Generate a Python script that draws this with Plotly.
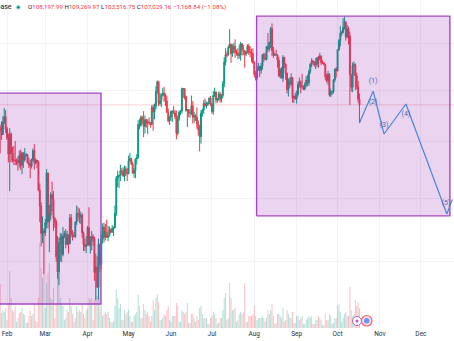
import pandas as pd
import plotly.graph_objects as go

# ---------------- data (prices in thousands USD) ----------------
dates = pd.date_range("2025-01-27", "2025-10-17", freq="D")

first_open_k = 102.6

close_k = [
    # Jan 27-31
    102.1, 101.3, 103.7, 104.7, 102.4,
    # Feb
    100.6, 97.7, 101.4, 97.9, 96.6, 96.6, 96.5, 96.5, 96.1, 97.4, 95.7, 97.9, 96.6, 97.5,
    97.6, 96.1, 95.8, 95.5, 96.6, 98.3, 96.1, 96.6, 96.3, 91.4, 88.7, 84.3, 84.7, 84.4,
    # Mar
    86.0, 94.3, 86.1, 87.2, 90.6, 89.9, 86.7, 86.1, 80.7, 78.5, 82.9, 83.7, 81.1, 83.9, 84.3,
    82.6, 84.1, 82.7, 86.8, 84.2, 84.0, 83.8, 86.1, 87.5, 87.4, 86.9, 87.2, 84.4, 82.6, 82.3, 82.5,
    # Apr
    85.2, 82.5, 83.1, 83.8, 83.5, 78.4, 79.2, 76.3, 82.6, 79.6, 83.4, 85.3, 83.7, 84.5, 83.7,
    84.0, 84.9, 84.5, 85.1, 85.2, 87.5, 93.4, 93.7, 93.9, 94.7, 94.6, 93.8, 95.0, 94.3, 94.2,
    # May
    96.5, 96.9, 95.9, 94.3, 94.7, 96.8, 97.0, 103.2, 103.0, 104.6, 104.1, 102.8, 104.1, 103.5, 103.7,
    103.5, 103.2, 106.5, 105.6, 106.8, 109.7, 111.7, 107.3, 107.8, 109.0, 109.4, 108.9, 107.8, 105.6, 103.9, 104.6,
    # Jun
    105.7, 105.8, 105.4, 104.7, 101.5, 104.3, 105.6, 105.8, 110.3, 110.3, 108.7, 105.9, 106.1, 105.4, 105.5,
    106.8, 104.6, 104.9, 104.6, 103.3, 102.2, 100.9, 105.4, 106.0, 107.3, 106.9, 107.1, 107.3, 108.4, 107.1,
    # Jul
    105.7, 108.9, 109.6, 108.0, 108.2, 109.2, 108.2, 108.9, 111.3, 115.9, 117.5, 117.4, 119.1, 119.8, 117.7,
    118.7, 119.3, 117.9, 117.9, 117.3, 117.4, 119.9, 118.6, 118.4, 117.6, 117.9, 119.4, 118.0, 117.9, 117.8, 115.8,
    # Aug
    113.3, 112.5, 114.2, 115.0, 114.1, 115.0, 117.5, 116.7, 116.5, 119.3, 118.7, 120.2, 123.3, 118.4, 117.4,
    117.5, 117.4, 116.3, 112.9, 114.3, 112.5, 116.9, 115.4, 113.5, 110.1, 111.8, 111.2, 112.6, 108.4, 108.8, 108.2,
    # Sep
    109.2, 111.2, 111.7, 110.7, 110.7, 110.2, 111.2, 112.1, 111.5, 113.9, 115.5, 116.1, 115.9, 115.3, 115.4,
    116.8, 116.5, 117.1, 115.7, 115.7, 115.3, 112.7, 112.0, 113.3, 109.0, 109.7, 109.7, 112.1, 114.4, 114.0,
    # Oct 1-17
    118.6, 120.6, 122.3, 122.4, 123.5, 124.8, 121.4, 123.3, 121.7, 113.2, 110.6, 115.2, 115.3, 113.0, 110.8,
    108.19799, 107.02916,
]

high_k = [
    103.2, 103.8, 104.8, 106.4, 106.0,
    102.8, 101.5, 102.5, 101.7, 99.0, 99.2, 100.1, 96.9, 97.3, 98.3, 98.5, 98.1, 98.0, 98.8,
    97.9, 97.7, 97.0, 96.7, 96.9, 98.7, 99.5, 96.9, 96.6, 96.5, 92.5, 89.3, 87.0, 85.1,
    86.6, 95.0, 94.4, 88.9, 91.0, 92.8, 91.2, 86.9, 86.5, 83.9, 83.6, 84.4, 84.3, 85.3, 84.7,
    85.0, 84.7, 84.1, 87.4, 87.4, 84.8, 84.5, 86.2, 88.8, 88.5, 88.3, 87.8, 87.5, 84.6, 83.5, 83.9,
    85.5, 88.5, 83.9, 84.7, 84.2, 83.8, 81.2, 80.8, 83.5, 82.7, 84.2, 85.9, 86.0, 85.8, 86.5,
    85.5, 85.4, 85.1, 85.6, 85.4, 88.8, 93.8, 94.7, 94.0, 95.8, 95.2, 95.3, 95.6, 95.5, 95.2,
    97.4, 97.9, 96.9, 96.3, 95.2, 96.9, 97.7, 104.0, 104.3, 104.9, 104.9, 105.8, 104.9, 104.3, 104.2,
    104.6, 103.7, 107.0, 107.1, 107.3, 110.8, 112.0, 111.9, 109.5, 109.3, 110.4, 110.7, 109.3, 108.9, 106.3, 104.9,
    105.9, 105.9, 106.8, 106.0, 105.9, 105.0, 105.9, 106.0, 110.5, 110.4, 110.4, 108.9, 106.2, 106.2, 106.1,
    108.9, 107.8, 105.6, 105.2, 106.5, 104.0, 103.1, 106.0, 106.3, 108.0, 108.3, 107.7, 107.6, 108.5, 108.8,
    107.5, 109.8, 110.5, 109.7, 108.4, 109.7, 109.7, 109.2, 111.9, 116.9, 118.9, 118.2, 119.5, 123.2, 119.9,
    119.8, 120.1, 120.9, 118.6, 118.9, 119.7, 120.3, 120.0, 119.6, 118.4, 118.3, 119.8, 119.9, 119.3, 118.8, 118.9,
    116.1, 114.0, 114.7, 115.7, 115.1, 115.7, 117.6, 117.9, 117.9, 119.3, 122.3, 120.3, 123.7, 124.5, 119.2,
    117.9, 118.6, 117.6, 117.0, 114.6, 114.8, 117.4, 117.0, 115.6, 113.6, 112.4, 112.6, 113.5, 112.6, 108.9, 109.5,
    109.9, 111.8, 112.6, 112.0, 113.4, 111.0, 111.6, 112.9, 113.2, 114.3, 115.6, 116.7, 116.4, 116.1, 116.8,
    117.0, 117.3, 117.9, 117.4, 116.3, 115.9, 115.5, 113.4, 114.0, 113.5, 110.3, 109.8, 112.3, 114.5, 114.8,
    118.7, 121.0, 123.9, 122.8, 125.7, 126.2, 125.1, 124.2, 123.8, 122.6, 113.4, 115.8, 116.0, 115.6, 113.6,
    111.9, 109.26997,
]

low_k = [
    97.8, 100.3, 101.2, 103.3, 101.6,
    100.3, 96.2, 91.2, 96.2, 96.2, 95.7, 95.7, 95.7, 94.7, 95.3, 94.9, 94.1, 95.2, 96.3,
    97.2, 96.0, 95.2, 93.4, 95.1, 96.4, 94.9, 95.8, 95.2, 91.2, 86.1, 82.3, 82.8, 78.2,
    83.9, 85.1, 85.1, 81.4, 86.4, 87.8, 84.7, 85.2, 80.0, 77.5, 76.6, 80.0, 79.9, 80.8, 83.6,
    82.0, 82.5, 81.2, 82.6, 83.7, 83.2, 83.7, 83.6, 85.6, 86.3, 85.9, 85.8, 83.6, 81.6, 81.6, 81.3,
    82.4, 82.3, 81.2, 81.7, 82.4, 77.2, 74.5, 76.2, 74.6, 78.5, 78.9, 82.7, 82.9, 83.2, 83.6,
    83.1, 83.8, 84.3, 84.4, 83.9, 85.1, 87.1, 91.9, 91.7, 92.9, 93.9, 93.6, 92.9, 93.8, 92.9,
    94.1, 96.3, 95.7, 94.2, 93.5, 93.4, 95.8, 96.9, 102.3, 102.8, 103.3, 100.8, 101.5, 102.6, 101.4,
    103.1, 102.6, 103.1, 102.0, 104.2, 106.1, 109.3, 106.8, 106.9, 106.6, 108.7, 107.6, 106.8, 105.4, 103.6, 103.1,
    103.9, 103.7, 105.2, 104.2, 100.4, 101.1, 103.9, 105.0, 105.3, 108.4, 108.1, 105.7, 102.7, 104.6, 104.5,
    105.0, 103.4, 103.5, 103.9, 102.4, 101.1, 98.2, 99.6, 104.7, 105.3, 106.6, 106.3, 106.8, 107.2, 106.8,
    105.3, 105.1, 108.6, 107.3, 107.5, 107.8, 107.5, 107.5, 108.4, 110.6, 115.2, 116.9, 117.3, 118.9, 115.7,
    117.0, 117.8, 116.8, 117.3, 116.5, 116.6, 116.2, 117.3, 117.4, 114.7, 117.2, 117.8, 117.4, 116.9, 115.8, 115.5,
    112.7, 112.0, 112.2, 114.1, 112.7, 113.4, 114.3, 115.9, 116.3, 116.2, 118.1, 118.2, 118.9, 117.2, 116.8,
    117.2, 117.3, 114.7, 112.7, 112.4, 112.4, 111.7, 114.6, 112.1, 109.3, 108.7, 110.4, 110.9, 107.5, 107.4, 108.1,
    107.3, 108.7, 110.5, 109.3, 110.2, 110.0, 110.0, 110.6, 110.8, 110.9, 113.4, 114.8, 115.2, 114.9, 114.4,
    114.8, 114.7, 116.2, 115.2, 115.5, 115.2, 112.0, 111.5, 111.1, 108.7, 108.6, 109.1, 109.3, 111.6, 112.6,
    113.9, 118.3, 119.3, 121.6, 122.2, 123.1, 120.6, 121.1, 119.7, 107.0, 109.7, 109.6, 113.0, 110.0, 110.2,
    107.5, 103.51675,
]

# daily volume (thousand BTC)
volume_k = [
    44, 15, 18, 16, 20,
    8, 25, 57, 30, 18, 16, 22, 6, 10, 15, 16, 20, 14, 13, 5, 6, 12, 18, 12, 14, 24, 7, 6, 30, 85, 60, 50, 100,
    20, 45, 55, 65, 30, 28, 40, 10, 25, 50, 55, 30, 25, 22, 8, 10, 18, 16, 30, 22, 14, 6, 10, 22, 16, 18, 16, 24, 14, 10, 18,
    20, 30, 28, 30, 8, 28, 55, 32, 50, 30, 22, 12, 14, 16, 14, 16, 10, 6, 5, 7, 22, 38, 30, 20, 24, 8, 8, 18, 14, 16,
    18, 12, 6, 6, 12, 14, 16, 33, 22, 10, 10, 24, 18, 14, 16, 12, 6, 12, 28, 18, 30, 34, 26, 8, 8, 10, 14, 12, 18, 22, 8,
    6, 12, 12, 12, 25, 22, 6, 6, 18, 16, 14, 16, 25, 5, 5, 14, 14, 10, 6, 12, 8, 20, 22, 14, 10, 10, 10, 4, 4, 10,
    12, 16, 14, 10, 4, 5, 10, 10, 18, 30, 35, 8, 10, 45, 30, 18, 18, 20, 6, 8, 14, 16, 14, 16, 45, 6, 6, 12, 12, 12, 14,
    22, 12, 8, 10, 10, 10, 12, 10, 6, 10, 18, 14, 18, 24, 12, 4, 5, 14, 14, 12, 10, 20, 6, 8, 18, 14, 10, 10, 16, 5, 5,
    12, 12, 8, 10, 12, 4, 4, 8, 10, 12, 10, 12, 4, 4, 8, 8, 12, 10, 8, 3, 3, 14, 8, 8, 14, 12, 4, 5, 10, 10,
    22, 24, 16, 6, 10, 14, 16, 12, 12, 41, 18, 12, 14, 28, 22, 26, 20,
]

# rectangle drawings (date span, price span)
box1_dates = ["2025-01-01", "2025-04-10 19:00"]
box1_prices = [73950, 109400]
box2_dates = ["2025-08-02 17:00", "2025-12-22 05:00"]
box2_prices = [87100, 126200]

# Elliott wave projection
wave_dates = ["2025-10-17", "2025-10-27", "2025-11-04", "2025-11-20", "2025-12-20", "2025-12-24"]
wave_prices = [103500, 109800, 101400, 107200, 87400, 89800]
wave_label_text = ["(1)", "(2)", "(3)", "(4)", "(5)"]
wave_label_dates = ["2025-10-27", "2025-10-27", "2025-11-04", "2025-11-20", "2025-12-19 08:00"]
wave_label_prices = [111900, 107600, 103100, 105200, 89200]

last_price = 107029.16
month_ticks = ["2025-%02d-01" % m for m in range(2, 13)]
month_labels = ["Feb", "Mar", "Apr", "May", "Jun", "Jul", "Aug", "Sep", "Oct", "Nov", "Dec"]
x_range = ["2025-01-26 21:00", "2025-12-25 05:00"]

# ---------------- build ----------------
open_k = [first_open_k] + close_k[:-1]
opens = [v * 1000 for v in open_k]
highs = [v * 1000 for v in high_k]
lows = [v * 1000 for v in low_k]
closes = [v * 1000 for v in close_k]

GREEN = "#089981"
RED = "#f23645"
vol_colors = ["rgba(8,153,129,0.32)" if c >= o else "rgba(242,54,69,0.32)" for o, c in zip(opens, closes)]

W, H = 454, 341
PLOT_H = 328

fig = go.Figure()

fig.add_trace(go.Bar(x=dates, y=volume_k, marker_color=vol_colors, marker_line_width=0,
                     yaxis="y", hoverinfo="skip"))

fig.add_trace(go.Candlestick(
    x=dates, open=opens, high=highs, low=lows, close=closes, yaxis="y2",
    increasing=dict(line=dict(color=GREEN, width=1), fillcolor=GREEN),
    decreasing=dict(line=dict(color=RED, width=1), fillcolor=RED),
    whiskerwidth=0,
))

# last price line
fig.add_trace(go.Scatter(x=x_range, y=[last_price, last_price], mode="lines", yaxis="y2",
                         line=dict(color="rgba(242,54,69,0.22)", width=1), hoverinfo="skip"))

# rectangles
for bd, bp in ((box1_dates, box1_prices), (box2_dates, box2_prices)):
    fig.add_trace(go.Scatter(
        x=[bd[0], bd[1], bd[1], bd[0], bd[0]],
        y=[bp[0], bp[0], bp[1], bp[1], bp[0]],
        mode="lines", fill="toself", fillcolor="rgba(156,39,176,0.2)",
        line=dict(color="#a646c2", width=1.4), yaxis="y2", hoverinfo="skip"))

# wave
fig.add_trace(go.Scatter(x=wave_dates, y=wave_prices, mode="lines", yaxis="y2",
                         line=dict(color="#4a86d6", width=1.2), cliponaxis=False, hoverinfo="skip"))
fig.add_trace(go.Scatter(x=wave_label_dates, y=wave_label_prices, mode="text", text=wave_label_text,
                         textfont=dict(color="#3f6db8", size=7, family="Roboto"), yaxis="y2",
                         cliponaxis=False, hoverinfo="skip"))

LOG_TOP = 5.11408
LOG_BOT = 4.84958

fig.update_layout(
    width=W, height=H,
    margin=dict(l=0, r=0, t=0, b=H - PLOT_H),
    paper_bgcolor="white", plot_bgcolor="white",
    showlegend=False,
    bargap=0.3,
    boxgap=0.05,
    font=dict(family="Roboto", color="#131722"),
    xaxis=dict(type="date", range=x_range, rangeslider=dict(visible=False),
               tickvals=month_ticks, ticktext=month_labels, ticks="",
               tickfont=dict(size=6.5, color="#2a2e39"), showgrid=True, gridcolor="#f2f3f7",
               gridwidth=1, zeroline=False, showline=False, fixedrange=True),
    yaxis=dict(range=[0, PLOT_H], visible=False, showgrid=False, fixedrange=True),
    yaxis2=dict(type="log", range=[LOG_BOT, LOG_TOP], overlaying="y", side="right",
                showticklabels=False, ticks="", showgrid=True, gridcolor="#f2f3f7",
                tickvals=[80000, 90000, 100000, 110000, 120000],
                zeroline=False, showline=False, fixedrange=True),
)

def py(pix):
    return (PLOT_H - pix) / PLOT_H

def px(pix):
    return pix / W

# header
fig.add_annotation(xref="paper", yref="paper", x=px(13.5), y=py(7), xanchor="right", yanchor="middle",
                   text="Bitcoin / U.S. Dollar · 1D · Coinbase", showarrow=False,
                   font=dict(size=7, color="#131722", family="Roboto"))
ohlc = ("O<span style='color:#f23645'>108,197.99</span> "
        "H<span style='color:#f23645'>109,269.97</span> "
        "L<span style='color:#f23645'>103,516.75</span> "
        "C<span style='color:#f23645'>107,029.16</span> "
        "<span style='color:#f23645'>−1,168.84 (−1.08%)</span>")
fig.add_annotation(xref="paper", yref="paper", x=px(25.5), y=py(7), xanchor="left", yanchor="middle",
                   text=ohlc, showarrow=False, font=dict(size=6.2, color="#131722", family="Roboto"))

# status dot
fig.add_shape(type="circle", xref="paper", yref="paper", x0=px(15.5), x1=px(21), y0=py(10), y1=py(4.5),
              fillcolor="rgba(8,153,129,0.15)", line=dict(width=0))
fig.add_shape(type="circle", xref="paper", yref="paper", x0=px(16.8), x1=px(19.8), y0=py(8.8), y1=py(5.8),
              fillcolor="#089981", line=dict(width=0))

# event icons near bottom
fig.add_shape(type="circle", xref="paper", yref="paper", x0=px(352.5), x1=px(361.5), y0=py(325.5), y1=py(316.5),
              fillcolor="white", line=dict(color="#b05cc8", width=1))
fig.add_shape(type="circle", xref="paper", yref="paper", x0=px(355.5), x1=px(358.5), y0=py(322.5), y1=py(319.5),
              fillcolor="#b05cc8", line=dict(width=0))
fig.add_shape(type="circle", xref="paper", yref="paper", x0=px(361.5), x1=px(372), y0=py(326), y1=py(315.5),
              fillcolor="#fde2e4", line=dict(color="#f25f6c", width=1.2))
fig.add_shape(type="circle", xref="paper", yref="paper", x0=px(364), x1=px(369.5), y0=py(323.5), y1=py(318),
              fillcolor="#6f93f0", line=dict(width=0))

fig.write_html("out.html")
